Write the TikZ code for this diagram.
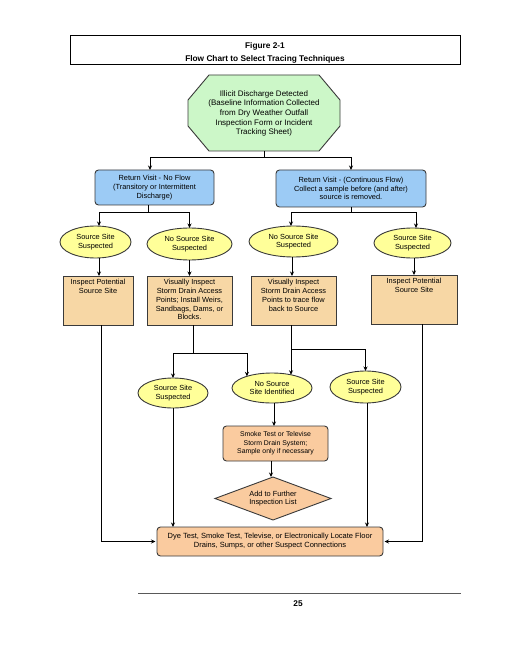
\documentclass[tikz,border=0pt]{standalone}
\usepackage{fontspec}
\setmainfont{Liberation Sans}
\usetikzlibrary{shapes.geometric,arrows.meta,calc}
\definecolor{octg}{HTML}{CCF7C8}
\definecolor{blu}{HTML}{9CCBF5}
\definecolor{yel}{HTML}{FFFF99}
\definecolor{tanf}{HTML}{F7D7A5}
\definecolor{orgf}{HTML}{FACB9F}
\definecolor{edgec}{HTML}{3A3A3A}
\begin{document}
\begin{tikzpicture}[x=1pt,y=-1pt,
  every node/.style={font=\fontsize{7.4}{8.8}\selectfont, align=center, inner sep=0pt, outer sep=0pt},
  bx/.style={draw=edgec, line width=0.9pt},
  bluebox/.style={bx, fill=blu, rounded corners=3.5pt},
  ell/.style={bx, ellipse, fill=yel},
  tanbox/.style={bx, fill=tanf},
  orbox/.style={bx, fill=orgf, rounded corners=3.5pt},
  dia/.style={bx, diamond, fill=orgf, aspect=2.7},
  con/.style={line width=0.75pt, draw=black},
  arr/.style={con, -{Stealth[length=4.5pt,width=4pt]}},
  ttl/.style={font=\bfseries\fontsize{8.3}{10}\selectfont}
]
\fill[white] (0,0) rectangle (510,660);
\useasboundingbox (0,0) rectangle (510,660);

% title
\node[draw, line width=0.8pt, minimum width=390, minimum height=29] (title) at (265,49.5) {};
\node[ttl] (t1) at (265,46) {Figure 2-1};
\node[ttl] (t2) at (265,59) {Flow Chart to Select Tracing Techniques};

% octagon
\node[minimum width=152, minimum height=76] (oct) at (264,113) {};
\draw[bx, fill=octg]
  ($(oct.north west)+(21,0)$) -- ($(oct.north east)+(-21,0)$) --
  ($(oct.north east)+(0,25)$) -- ($(oct.south east)+(0,-25)$) --
  ($(oct.south east)+(-21,0)$) -- ($(oct.south west)+(21,0)$) --
  ($(oct.south west)+(0,-25)$) -- ($(oct.north west)+(0,25)$) -- cycle;
\node[font=\fontsize{8}{9.7}\selectfont] (octt) at (264,113.5)
  {Illicit Discharge Detected\\(Baseline Information Collected\\from Dry Weather Outfall\\Inspection Form or Incident\\Tracking Sheet)};

% blue boxes
\node[bluebox, minimum width=119, minimum height=35] (b1) at (154.5,187.5)
  {Return Visit - No Flow\\(Transitory or Intermittent\\Discharge)};
\node[bluebox, minimum width=150, minimum height=37] (b2) at (351,188.5)
  {Return Visit - (Continuous Flow)\\Collect a sample before (and after)\\source is removed.};

\coordinate (j0) at (264,157);
\draw[con] (oct.south) -- (j0);
\draw[arr] (j0) -| ([xshift=-4.5pt]b1.north);
\draw[arr] (j0) -| (b2.north);

% ellipses row 1
\node[ell, minimum width=71, minimum height=32] (e1) at (95.5,242) {Source Site\\Suspected};
\node[ell, minimum width=85, minimum height=32] (e2) at (189.5,244) {No Source Site\\Suspected};
\node[ell, minimum width=89, minimum height=31] (e3) at (293.5,241.5) {No Source Site\\Suspected};
\node[ell, minimum width=77, minimum height=30] (e4) at (412.5,243) {Source Site\\Suspected};

\coordinate (j1) at (148,212);
\draw[con] ([xshift=-6.5pt]b1.south) -- (j1);
\draw[arr] (j1) -| ([xshift=3.5pt]e1.north);
\draw[arr] (j1) -| (e2.north);
\coordinate (j2) at (351,212);
\draw[con] (b2.south) -- (j2);
\draw[arr] (j2) -| ([xshift=-2.5pt]e3.north);
\draw[arr] (j2) -| ([xshift=3.5pt]e4.north);

% tan boxes
\node[tanbox, minimum width=70, minimum height=49] (r1) at (98,300.5) {};
\node[tanbox, minimum width=85, minimum height=49] (r2) at (189.5,300.5) {};
\node[tanbox, minimum width=85, minimum height=49] (r3) at (293.5,300.5) {};
\node[tanbox, minimum width=86, minimum height=49] (r4) at (414,299.5) {};
\node[anchor=north, font=\fontsize{7.4}{8.9}\selectfont] (r1t) at ([yshift=-3pt]r1.north) {Inspect Potential\\Source Site};
\node[anchor=north, font=\fontsize{7.4}{8.9}\selectfont] (r2t) at ([yshift=-3pt]r2.north) {Visually Inspect\\Storm Drain Access\\Points; Install Weirs,\\Sandbags, Dams, or\\Blocks.};
\node[anchor=north, font=\fontsize{7.4}{8.9}\selectfont] (r3t) at ([yshift=-3pt]r3.north) {Visually Inspect\\Storm Drain Access\\Points to trace flow\\back to Source};
\node[anchor=north, font=\fontsize{7.4}{8.9}\selectfont] (r4t) at ([yshift=-3pt]r4.north) {Inspect Potential\\Source Site};

\draw[arr] ([xshift=3.5pt]e1.south) -- ([xshift=3.5pt]e1.south |- r1.north);
\draw[arr] (e2.south) -- (e2.south |- r2.north);
\draw[arr] ([xshift=-1.5pt]e3.south) -- ([xshift=-1.5pt]e3.south |- r3.north);
\draw[arr] ([xshift=1.5pt]e4.south) -- ([xshift=1.5pt]e4.south |- r4.north);

% ellipses row 2
\node[ell, minimum width=70, minimum height=30] (e5) at (173,393) {Source Site\\Suspected};
\node[ell, minimum width=80, minimum height=30] (e6) at (272,388) {No Source\\Site Identified};
\node[ell, minimum width=71, minimum height=32] (e7) at (365.5,387) {Source Site\\Suspected};

\coordinate (j3) at (193,353);
\draw[con] ([xshift=3.5pt]r2.south) -- (j3);
\draw[arr] (j3) -| (e5.north);
\draw[arr] (j3) -| (e6.155);
\coordinate (j4) at (291,349);
\draw[con] ([xshift=-2.5pt]r3.south) -- (j4);
\draw[arr] (j4) -- (j4 |- e6.35);
\draw[arr] (j4) -| (e7.north);

% smoke box and diamond
\node[orbox, minimum width=105, minimum height=35, font=\fontsize{6.9}{8.4}\selectfont] (smk) at (275.5,443.5)
  {Smoke Test or Televise\\Storm Drain System;\\Sample only if necessary};
\draw[arr] ([xshift=2pt]e6.south) -- ([xshift=2pt]e6.south |- smk.north);
\node[dia, minimum width=116, minimum height=43] (dia) at (273,498.5) {Add to Further\\Inspection List};
\draw[arr] ([xshift=-4.5pt]smk.south) -- ([xshift=-4.5pt]smk.south |- dia.north);

% bottom box
\node[orbox, minimum width=226, minimum height=29, font=\fontsize{7.5}{8.9}\selectfont] (bot) at (270,541.5)
  {Dye Test, Smoke Test, Televise, or Electronically Locate Floor\\Drains, Sumps, or other Suspect Connections};
\draw[arr] (e5.south) -- (e5.south |- bot.north);
\draw[arr] ([xshift=1.5pt]e7.south) -- ([xshift=1.5pt]e7.south |- bot.north);
\draw[arr] ([xshift=3pt]r1.south) |- ([xshift=-1.5pt]bot.west);
\draw[arr] ([xshift=8pt]r4.south) |- ([xshift=1.5pt]bot.east);

% footer
\draw[line width=0.7pt, draw=black!65] (138,593) -- (461,593);
\node[ttl] (pg) at (298,603.5) {25};
\end{tikzpicture}
\end{document}
